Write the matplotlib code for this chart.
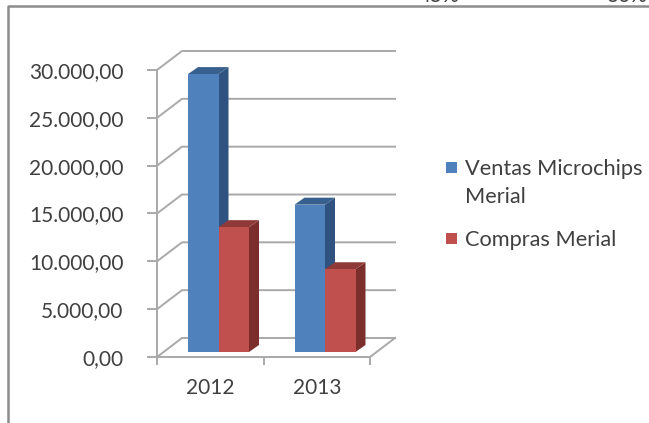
import matplotlib
matplotlib.use("Agg")
import matplotlib.pyplot as plt
from matplotlib.lines import Line2D
from matplotlib.patches import Rectangle

plt.rcParams['font.family'] = ['Lato', 'DejaVu Sans']

years = ['2012', '2013']
ventas = [29050, 15400]
compras = [13050, 8650]
y_ticks = [0, 5000, 10000, 15000, 20000, 25000, 30000]
y_labels = ['0,00', '5.000,00', '10.000,00', '15.000,00', '20.000,00', '25.000,00', '30.000,00']
series_names = ['Ventas Microchips\nMerial', 'Compras Merial']

W, H = 649, 423
GRID = '#a9a9a9'
TEXT = '#404040'
BLUE = '#4f81bd'
RED = '#c0504d'
FS = 15

fig = plt.figure(figsize=(W / 100, H / 100), dpi=100)

# axes covers the front plane of the fake 3d box
left, right, top, bottom = 157, 370, 70, 357
ax = fig.add_axes([left / W, 1 - bottom / H, (right - left) / W, (bottom - top) / H])
ax.set_xlim(0, len(years))
ax.set_ylim(0, 30000)
ax.patch.set_alpha(0)

# pixel -> data sizes
px_x = len(years) / (right - left)
px_y = 30000 / (bottom - top)

# back wall offset, bar depth offset
wall_dx, wall_dy = 25 * px_x, 19 * px_y
depth_dx, depth_dy = 10 * px_x, 7 * px_y
floor_dy = 5 * px_y
bar_w = 30.5 * px_x
group_start = 31 * px_x


def draw_bar(x0, value, front, side, roof):
    y0 = floor_dy
    y1 = y0 + value
    x1 = x0 + bar_w
    ax.fill([x1, x1 + depth_dx, x1 + depth_dx, x1],
            [y0, y0 + depth_dy, y1 + depth_dy, y1], color=side, lw=0, zorder=3, clip_on=False)
    ax.fill([x0, x0 + depth_dx, x1 + depth_dx, x1],
            [y1, y1 + depth_dy, y1 + depth_dy, y1], color=roof, lw=0, zorder=3, clip_on=False)
    ax.bar(x0, value, bar_w, bottom=y0, align='edge', color=front, lw=0, zorder=3)


# gridlines on wall + floor
for v in y_ticks:
    ax.plot([0, wall_dx, 2 + wall_dx], [v, v + wall_dy, v + wall_dy],
            color=GRID, lw=1.4, zorder=1, clip_on=False)
ax.plot([2, 2 + wall_dx], [0, wall_dy], color=GRID, lw=1.4, zorder=1, clip_on=False)

for i in range(len(years)):
    draw_bar(i + group_start, ventas[i], BLUE, '#2f5280', '#38608f')
    draw_bar(i + group_start + bar_w, compras[i], RED, '#7b2e2c', '#8f3a38')

ax.set_yticks(y_ticks)
ax.set_yticklabels(y_labels)
ax.set_xticks([0.5, 1.5])
ax.set_xticklabels(years)
ax.set_xticks([0, 1, 2], minor=True)
ax.tick_params(axis='x', which='major', length=0, pad=15, labelsize=FS, labelcolor=TEXT)
ax.tick_params(axis='x', which='minor', length=6, width=1.4, color=GRID)
ax.tick_params(axis='y', length=7, width=1.4, color=GRID, pad=17, labelsize=FS, labelcolor=TEXT)

for s in ['top', 'right']:
    ax.spines[s].set_visible(False)
for s in ['left', 'bottom']:
    ax.spines[s].set_color(GRID)
    ax.spines[s].set_linewidth(1.4)

# legend by hand, the square sits on the first line of the label
legend_rows = [(168, BLUE), (239, RED)]
for (row_y, col), name in zip(legend_rows, series_names):
    fig.add_artist(Rectangle((446 / W, 1 - (row_y + 5.5) / H), 11 / W, 11 / H,
                             transform=fig.transFigure, color=col, lw=0))
    fig.text(465 / W, 1 - (row_y - 9) / H, name, ha='left', va='top', fontsize=15.7,
             color=TEXT, linespacing=1.5)

# outer frame of the pasted chart
fig.add_artist(Line2D([8 / W, 8 / W, 1], [0, 1 - 6.5 / H, 1 - 6.5 / H], color='#8c8c8c', lw=1.8))

# cut off labels from whatever was above in the page
fig.text(439 / W, 1 - 1.5 / H, '45%', ha='center', va='baseline', fontsize=FS, color=TEXT)
fig.text(627 / W, 1 - 1.5 / H, '30%', ha='center', va='baseline', fontsize=FS, color=TEXT)

fig.savefig('out.png', dpi=100)
